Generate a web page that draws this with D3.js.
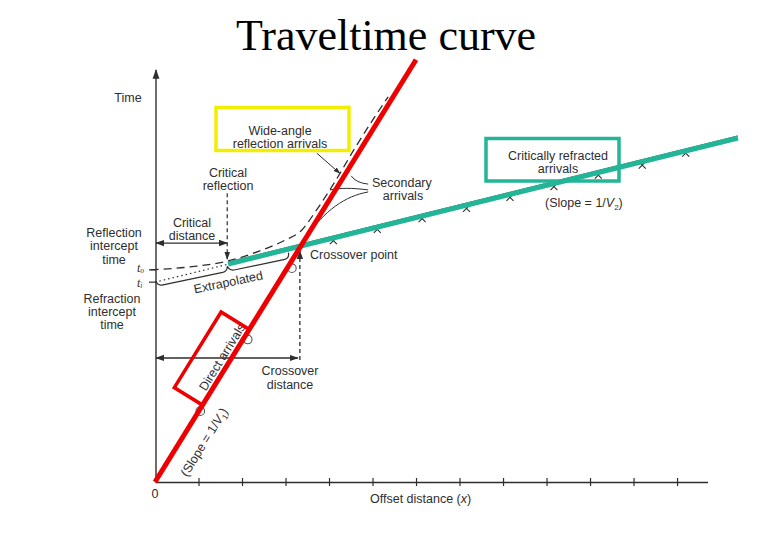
<!DOCTYPE html>
<html><head><meta charset="utf-8">
<script src="https://cdn.jsdelivr.net/npm/d3@7"></script>
<style>body{margin:0;background:#fff}svg{display:block}</style>
</head><body><svg id="c" width="780" height="540"></svg>
<script>
// ---- data (arbitrary units: x = offset distance, t = travel time) ----
const xTicks = [1,2,3,4,5,6,7,8,9,10,11,12];
const directLine = [[0,0],[6.0,10.25]];
const refractedLine = [[1.68,5.29],[13.4,8.35]];
const extrapolatedLine = [[0,4.85],[3.35,5.72]];
const reflectionCurve = [[-0.1,5.15],[0.8,5.22],[1.66,5.36],[2.41,5.61],[2.99,5.87],[3.36,6.1],[3.7,6.58],[4.12,7.26],[4.57,8.06],[5.05,8.86],[5.36,9.35]];
const directX = [0.995,2.085,3.1];
const directT = [1.72,3.46,5.19];
const refractedX = [4.1,5.11,6.14,7.16,8.16,9.17,10.19,11.2,12.2];
const refractedT = [5.86,6.13,6.39,6.64,6.91,7.17,7.45,7.69,7.98];
const t0 = 5.15, ti = 4.85, criticalX = 1.66, crossoverX = 3.33, crossoverT = 5.66;

const svg = d3.select('#c');
const x = d3.scaleLinear().domain([0,12.7]).range([155,707.5]);
const y = d3.scaleLinear().domain([0,10]).range([482,70]);
const line = d3.line().x(d=>x(d[0])).y(d=>y(d[1]));
const INK = '#2e2e2e', RED = '#ee0000', TEAL = '#22b597', YEL = '#f2ee00';
const SANS = "'Liberation Sans', Arial, sans-serif";
const FS = 12.5;

const defs = svg.append('defs');
function mk(id, orient){
  defs.append('marker').attr('id',id).attr('viewBox','0 0 10 10').attr('refX',9).attr('refY',5)
   .attr('markerWidth',7).attr('markerHeight',7).attr('orient',orient)
   .append('path').attr('d','M0,1.5L10,5L0,8.5z').attr('fill',INK);
}
mk('arr','auto'); mk('arrS','auto-start-reverse');

svg.append('rect').attr('width',780).attr('height',540).attr('fill','#fff');

// title
svg.append('text').attr('x',386).attr('y',50).attr('text-anchor','middle')
  .attr('font-family',"'Liberation Serif','Times New Roman',serif").attr('font-size',44).attr('fill','#000')
  .text('Traveltime curve');

// axes
const xAxis = d3.axisBottom(x).tickValues(xTicks).tickSize(8).tickSizeOuter(0).tickFormat('');
const gx = svg.append('g').attr('transform',`translate(0,${y(0)})`).call(xAxis);
gx.select('.domain').attr('stroke',INK).attr('stroke-width',1.4);
gx.selectAll('.tick line').attr('y1',-4).attr('y2',4).attr('stroke',INK).attr('stroke-width',1.2);
svg.append('line').attr('x1',x(0)+1).attr('x2',x(0)+1).attr('y1',y(0)).attr('y2',y(10))
  .attr('stroke',INK).attr('stroke-width',1.4).attr('marker-end','url(#arr)');
svg.append('text').attr('x',x(0)).attr('y',498).attr('text-anchor','middle')
  .attr('font-family',SANS).attr('font-size',FS).attr('fill',INK).text('0');

// reflection (dashed) curve
svg.append('path').datum(reflectionCurve).attr('d',d3.line().x(d=>x(d[0])).y(d=>y(d[1])).curve(d3.curveMonotoneX))
  .attr('fill','none').attr('stroke',INK).attr('stroke-width',1.3).attr('stroke-dasharray','8,5');
// extrapolated dotted line
svg.append('path').datum(extrapolatedLine).attr('d',line)
  .attr('fill','none').attr('stroke',INK).attr('stroke-width',1.2).attr('stroke-dasharray','1.5,3');
// tiny ticks at t0 / ti
[t0,ti].forEach(t=>svg.append('line').attr('x1',x(0)-6).attr('x2',x(0)+1).attr('y1',y(t)).attr('y2',y(t)).attr('stroke',INK).attr('stroke-width',1.2));

// helper for data-anchored paths
const P = (a,b)=>`${x(a)},${y(b)}`;
// critical reflection vertical arrow
svg.append('line').attr('x1',x(criticalX)).attr('x2',x(criticalX)).attr('y1',y(7.01)).attr('y2',y(5.41))
  .attr('stroke',INK).attr('stroke-width',1.2).attr('stroke-dasharray','4,3').attr('marker-end','url(#arr)');
// critical distance double arrow
svg.append('line').attr('x1',x(0)+1).attr('x2',x(criticalX)).attr('y1',y(5.8)).attr('y2',y(5.8))
  .attr('stroke',INK).attr('stroke-width',1.3).attr('marker-end','url(#arr)').attr('marker-start','url(#arrS)');
// crossover vertical dashed arrow
svg.append('line').attr('x1',x(crossoverX)).attr('x2',x(crossoverX)).attr('y1',y(2.96)).attr('y2',y(crossoverT-0.05))
  .attr('stroke',INK).attr('stroke-width',1.3).attr('stroke-dasharray','4,3').attr('marker-end','url(#arr)');
// crossover distance double arrow
svg.append('line').attr('x1',x(0)+1).attr('x2',x(crossoverX)-2).attr('y1',y(3.01)).attr('y2',y(3.01))
  .attr('stroke',INK).attr('stroke-width',1.3).attr('marker-end','url(#arr)').attr('marker-start','url(#arrS)');

// brace for "Extrapolated"
{
  const a=[x(0)+2,y(4.78)], b=[x(3.09),y(5.45)];
  const ang = Math.atan2(b[1]-a[1], b[0]-a[0])*180/Math.PI;
  const L = Math.hypot(b[0]-a[0], b[1]-a[1]);
  const g = svg.append('g').attr('transform',`translate(${a[0]},${a[1]}) rotate(${ang})`);
  const m=L*0.53;
  g.append('path').attr('d',`M0,-4 Q0,1 6,1 L${m-6},1 Q${m},1 ${m+1},-4 Q${m+2},1 ${m+8},1 L${L-6},1 Q${L},1 ${L},-5`)
   .attr('fill','none').attr('stroke',INK).attr('stroke-width',1.2);
  g.append('text').attr('x',L*0.52).attr('y',16).attr('text-anchor','middle')
   .attr('font-family',SANS).attr('font-size',FS).attr('fill',INK).text('Extrapolated');
}

// secondary arrivals leaders
const thin = d=>svg.append('path').attr('d',d).attr('fill','none').attr('stroke',INK).attr('stroke-width',1);
thin(`M${P(4.9,7.23)} Q${P(4.62,7.26)} ${P(4.51,7.43)}`);
thin(`M${P(4.9,7.09)} C${P(4.53,7.14)} ${P(4.25,7.14)} ${P(4.02,7.09)}`);
thin(`M${P(4.9,7.04)} C${P(4.37,6.94)} ${P(3.91,6.6)} ${P(3.45,5.92)}`);
// wide-angle leader arrow
svg.append('line').attr('x1',x(3.72)).attr('y1',y(7.98)).attr('x2',x(4.25)).attr('y2',y(7.49))
  .attr('stroke',INK).attr('stroke-width',1).attr('marker-end','url(#arr)');

// refracted arrivals markers (x)
const gx2 = svg.append('g');
refractedX.forEach((v,i)=>{
  const cx=x(v), cy=y(refractedT[i]), s=3.5;
  gx2.append('path').attr('d',`M${cx-s},${cy+s}L${cx+s},${cy-s}M${cx-s},${cy-s}L${cx+s},${cy+s}`)
    .attr('stroke',INK).attr('stroke-width',1.1);
});
// direct arrivals circles
directX.forEach((v,i)=>svg.append('circle').attr('cx',x(v)+2).attr('cy',y(directT[i])).attr('r',4.3)
  .attr('fill','none').attr('stroke','#555').attr('stroke-width',1.1));

// thin refraction trace + teal line
svg.append('path').datum(refractedLine.map(d=>[d[0],d[1]+0.05])).attr('d',line)
  .attr('fill','none').attr('stroke','#555').attr('stroke-width',1);
svg.append('path').datum(refractedLine).attr('d',line)
  .attr('fill','none').attr('stroke',TEAL).attr('stroke-width',5);

// angle of direct line
const ang1 = Math.atan2(y(directLine[1][1])-y(0), x(directLine[1][0])-x(0))*180/Math.PI;

// "Direct arrivals" text (under red line)
svg.append('text').attr('transform',`translate(222,357) rotate(${ang1})`).attr('text-anchor','middle').attr('dy','0.35em')
  .attr('font-family',SANS).attr('font-size',FS).attr('fill',INK).text('Direct arrivals');

// red direct line
svg.append('path').datum(directLine).attr('d',line).attr('fill','none').attr('stroke',RED).attr('stroke-width',5);

// red box
svg.append('rect').attr('transform',`translate(211.75,358.5) rotate(${ang1})`)
  .attr('x',-44.5).attr('y',-16.5).attr('width',89).attr('height',33)
  .attr('fill','none').attr('stroke',RED).attr('stroke-width',3.5);

// slope 1/V1 text
{
  const t = svg.append('text').attr('transform',`translate(204,442) rotate(${ang1})`).attr('text-anchor','middle').attr('dy','0.35em')
    .attr('font-family',SANS).attr('font-size',FS).attr('fill',INK);
  t.append('tspan').text('(Slope = 1/');
  t.append('tspan').attr('font-style','italic').text('V');
  t.append('tspan').attr('font-size',8).attr('dy',3).text('1');
  t.append('tspan').attr('dy',-3).text(')');
}

// yellow & teal boxes
svg.append('rect').attr('x',216).attr('y',107.5).attr('width',133).attr('height',43)
  .attr('fill','none').attr('stroke',YEL).attr('stroke-width',3.5);
svg.append('rect').attr('x',486).attr('y',138.5).attr('width',133).attr('height',42.5)
  .attr('fill','none').attr('stroke',TEAL).attr('stroke-width',3.5);

// labels
const lbl = (txt,xx,yy,anchor='middle',size=FS)=>svg.append('text').attr('x',xx).attr('y',yy).attr('text-anchor',anchor)
  .attr('font-family',SANS).attr('font-size',size).attr('fill',INK).text(txt);
lbl('Time',128,102);
lbl('Wide-angle',280,135); lbl('reflection arrivals',280,148);
lbl('Critical',228,177); lbl('reflection',228,190);
lbl('Critical',192,227); lbl('distance',192,240);
lbl('Reflection',114,237); lbl('intercept',114,250); lbl('time',114,264);
lbl('Refraction',112,303); lbl('intercept',112,316); lbl('time',112,329);
lbl('Crossover',290,375); lbl('distance',290,389);
lbl('Crossover point',310,259,'start');
lbl('Secondary',372,187,'start'); lbl('arrivals',403,200);
lbl('Critically refracted',558,160); lbl('arrivals',558,173);
{
  const t = lbl('Offset distance (',370,503,'start');
  t.append('tspan').attr('font-style','italic').text('x');
  t.append('tspan').text(')');
}
{
  const t = svg.append('text').attr('x',545).attr('y',207).attr('font-family',SANS).attr('font-size',FS).attr('fill',INK);
  t.append('tspan').text('(Slope = 1/');
  t.append('tspan').attr('font-style','italic').text('V');
  t.append('tspan').attr('font-size',8).attr('dy',3).text('2');
  t.append('tspan').attr('dy',-3).text(')');
}
// t0, ti
[[t0,'o',-1],[ti,'i',1.5]].forEach(([t,s,off])=>{
  const tt = svg.append('text').attr('x',137).attr('y',y(t)+3+off).attr('font-family',"'Liberation Serif',serif")
    .attr('font-style','italic').attr('font-size',12).attr('fill',INK);
  tt.append('tspan').text('t');
  tt.append('tspan').attr('font-size',7.5).attr('dy',1.5).text(s);
});
</script></body></html>
